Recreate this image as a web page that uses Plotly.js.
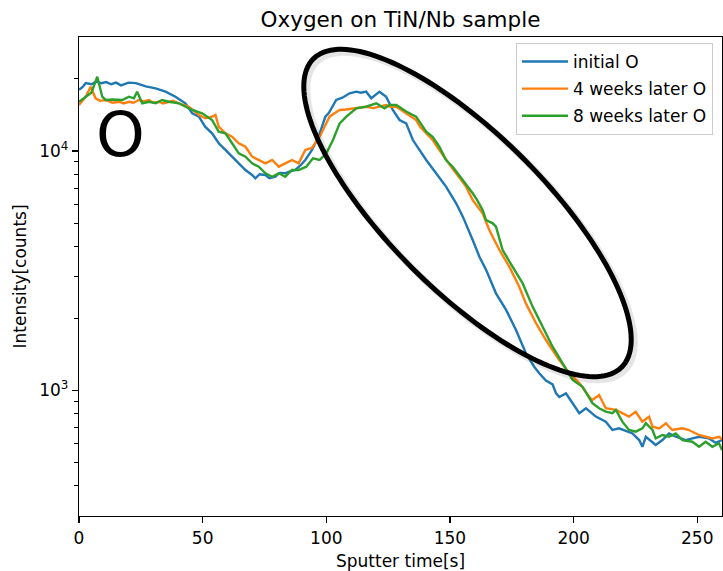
<!DOCTYPE html>
<html><head><meta charset="utf-8">
<script src="https://cdn.plot.ly/plotly-3.0.1.min.js"></script>
<style>html,body{margin:0;padding:0;background:#fff}#chart{width:723px;height:571px}</style>
</head><body><div id="chart"></div>
<script>
// ---- data ----
const timeInitial = [0,1.5,2.7,5,7,9,11,13,15,17,20,23,27,31,35,39,43,45.8,48.5,51,53.8,56.5,59.2,61.9,64.6,67.3,70,71.3,73,75.4,77,79.4,81,83.4,85,87.5,89.5,91.5,94.2,96.9,99.6,101,104,106.5,109.4,112.1,114,116.1,118.2,120,121.5,124.2,126.9,129.6,132.3,135,137.7,140.4,144.4,148.4,152.5,155.2,159.2,161.9,164.6,168.6,172.7,176.7,180.7,184,186.1,188.8,191.5,192.9,194.2,196.9,199.6,202.3,205,209,213,215.7,218.4,223.8,226.5,227.8,229.2,233.2,235.9,238.6,241.3,245.3,250.7,254.7,257.4,260];
const valInitial = [18000,18500,19200,19000,19500,19200,19400,19000,19300,18800,19300,19200,18600,18270,17690,16850,15820,14370,13910,12630,11850,10770,10100,9470,8880,8330,7940,7690,8000,7940,7700,7810,8100,8070,8200,8330,8700,9170,10100,11470,13900,14400,16330,16700,17410,17690,17500,17690,16600,17200,17690,16850,14830,13470,13050,11110,10100,9170,8070,7100,6050,5320,4250,3620,3190,2545,2170,1790,1430,1260,1180,1100,1060,973,940,973,885,804,843,778,741,684,695,662,621,582,641,592,621,662,641,621,641,631,605,621];

const time4w = [0,2.7,4.7,6.7,8.5,10.8,13.5,16.2,18,20.2,22,24.2,26,28.3,30,32.3,34,36.3,38,40.4,42,44.4,46.5,48.5,51.1,53.8,55.2,56.5,59.2,61.9,64.6,67.3,70,72.7,75.4,78.1,80.8,83.4,86.1,88.8,91.5,94.2,97.3,100,101.3,103,105.4,108,110.7,113,116.1,119,121.5,124.2,126,128.3,130,132.3,134,136.3,138,140.4,143,145.7,148.4,150.5,152.5,156.5,159.2,163.2,165.9,168,170,174,178,180.7,184.8,188.8,191.4,194.2,198.2,202.3,206.3,207.5,210.3,213,217.1,219.7,222.4,225.1,227.8,230.5,231.9,234.6,237.3,239.9,244,246.6,250.7,253.4,256.1,258.8,260];
const val4w = [15560,16850,18560,16600,16200,16330,15900,16060,15800,16060,15900,16330,16100,16330,15900,16060,15800,16060,16200,15820,15600,15310,14700,14140,13690,13910,14140,12630,11850,11470,10770,10420,9470,9170,8880,9170,8600,8880,9170,8880,10100,10300,11470,13050,13910,14300,14830,14900,15070,15200,15310,15100,15310,15560,15300,15310,14900,14370,14000,13470,12600,11850,11110,10100,9170,8600,8070,7100,6240,5490,4680,4250,3860,3290,2710,2310,1910,1625,1476,1340,1183,1074,942,912,957,843,830,804,778,815,741,778,706,695,730,684,695,684,652,641,631,641,625];

const time8w = [0,2.7,5,7.4,9.4,10.8,13.5,17.5,20.2,22.2,23.5,25.6,28.3,31,33.6,36.3,40.4,43.1,45.8,49.8,53.8,56.5,59.2,61.9,64.6,67.3,70,72.7,75.4,78.1,80.8,83.4,86.1,88.8,91.9,94.6,97.3,100,102.7,105.4,108.1,112.1,116.1,120.2,123.5,125.6,128.3,132.3,136.3,140.4,143,145.7,148.4,151.1,155.2,159.2,161,163.2,164.6,167.3,168.6,171.3,175.3,179.4,183.4,187.4,191.5,195.5,199.6,203.6,207.6,210.3,213,215.7,217.1,219.7,222.4,225.1,227.8,229.2,231.9,233.2,235.9,238.6,241.3,244,248,250.7,253.4,256.1,258.8,260];
const val8w = [16060,16850,17500,20420,16850,16330,16400,16330,16850,16600,17690,15820,16060,15820,16330,16060,15820,15310,14830,14370,13470,12040,11850,10770,9780,9470,8880,8600,8070,7810,8070,7810,8330,8330,8600,9320,9170,9780,11110,13050,13910,15070,15310,15820,15070,15560,15560,14610,13910,12040,11470,10420,9170,8600,7570,6660,6240,5670,5150,4990,4830,3860,3290,2800,2240,1850,1524,1300,1107,1037,885,843,816,804,830,741,684,673,695,730,684,631,652,641,662,621,611,582,611,582,602,565];

const seriesNames = ['initial O','4 weeks later O','8 weeks later O'];
const seriesColors = ['#1f77b4','#ff7f0e','#2ca02c'];
const xTickVals = [0,50,100,150,200,250];
const yTickVals = [1000,10000];
const yTickText = ['10<sup>3</sup>','10<sup>4</sup>'];
const yMinorTickVals = [400,500,600,700,800,900,2000,3000,4000,5000,6000,7000,8000,9000,20000];

// ---- layout geometry ----
const W = 723, H = 571;
const M = {l:79, r:1, t:37, b:55};
const PW = W - M.l - M.r, PH = H - M.t - M.b;
const FONT = 'DejaVu Sans, Verdana, sans-serif';

function ellipsePath(cx, cy, a, b, angDeg, dx, dy) {
  const th = angDeg * Math.PI / 180;
  let d = '';
  const N = 160;
  for (let i = 0; i <= N; i++) {
    const t = 2 * Math.PI * i / N;
    const px = cx + dx + a * Math.cos(t) * Math.cos(th) - b * Math.sin(t) * Math.sin(th);
    const py = cy + dy + a * Math.cos(t) * Math.sin(th) + b * Math.sin(t) * Math.cos(th);
    const xp = (px - M.l) / PW;
    const yp = (H - M.b - py) / PH;
    d += (i === 0 ? 'M' : 'L') + xp.toFixed(5) + ',' + yp.toFixed(5);
  }
  return d + 'Z';
}
const ell = {cx: 467.5, cy: 213, a: 218, b: 78, ang: 45};

const traces = [
  {x: timeInitial, y: valInitial},
  {x: time4w, y: val4w},
  {x: time8w, y: val8w}
].map((s, i) => ({
  x: s.x, y: s.y, type: 'scatter', mode: 'lines', name: seriesNames[i],
  legendgroup: 'g' + i,
  line: {color: seriesColors[i], width: 2.4}
}));

const layout = {
  width: W, height: H,
  margin: M,
  paper_bgcolor: '#fff', plot_bgcolor: '#fff',
  font: {family: FONT, size: 17, color: '#000'},
  title: {text: 'Oxygen on TiN/Nb sample', font: {family: FONT, size: 21.5, color: '#000'},
          x: (M.l + PW / 2) / W, xanchor: 'center', y: 1 - 19 / H, yanchor: 'middle'},
  showlegend: true,
  legend: {x: (713 - M.l) / PW, y: (H - M.b - 43) / PH, xanchor: 'right', yanchor: 'top',
           bgcolor: 'rgba(255,255,255,0.8)', bordercolor: '#cccccc', borderwidth: 1,
           font: {family: FONT, size: 17, color: '#000'}, tracegroupgap: 2, itemwidth: 46},
  xaxis: {
    range: [0, 260], tickmode: 'array', tickvals: xTickVals,
    ticks: 'outside', ticklen: 6, tickwidth: 1.2, tickcolor: '#000',
    showline: true, linecolor: '#000', linewidth: 1.2, mirror: true,
    showgrid: false, zeroline: false,
    tickfont: {family: FONT, size: 17, color: '#000'},
    title: {text: 'Sputter time[s]', font: {family: FONT, size: 17, color: '#000'}, standoff: 9}
  },
  yaxis: {
    type: 'log', range: [2.476, 4.476],
    tickmode: 'array', tickvals: yTickVals, ticktext: yTickText,
    ticks: 'outside', ticklen: 6, tickwidth: 1.2, tickcolor: '#000',
    minor: {ticks: 'outside', ticklen: 3.5, tickwidth: 1, tickcolor: '#000', tickmode: 'array', tickvals: yMinorTickVals, showgrid: false},
    showline: true, linecolor: '#000', linewidth: 1.2, mirror: true,
    showgrid: false, zeroline: false,
    tickfont: {family: FONT, size: 17, color: '#000'},
    title: {text: 'Intensity[counts]', font: {family: FONT, size: 17, color: '#000'}, standoff: 8}
  },
  shapes: [
    {type: 'path', xref: 'paper', yref: 'paper', path: ellipsePath(ell.cx, ell.cy, ell.a, ell.b, ell.ang, 3, 3),
     line: {color: 'rgba(0,0,0,0.10)', width: 7}},
    {type: 'path', xref: 'paper', yref: 'paper', path: ellipsePath(ell.cx, ell.cy, ell.a, ell.b, ell.ang, 0, 0),
     line: {color: '#000', width: 5}}
  ],
  annotations: [
    {text: 'O', xref: 'paper', yref: 'paper', x: (120 - M.l) / PW, y: (H - M.b - 134) / PH,
     xanchor: 'center', yanchor: 'middle', showarrow: false,
     font: {family: FONT, size: 62, color: '#000'}}
  ]
};

Plotly.newPlot('chart', traces, layout, {displayModeBar: false, staticPlot: true});
</script>
</body></html>
